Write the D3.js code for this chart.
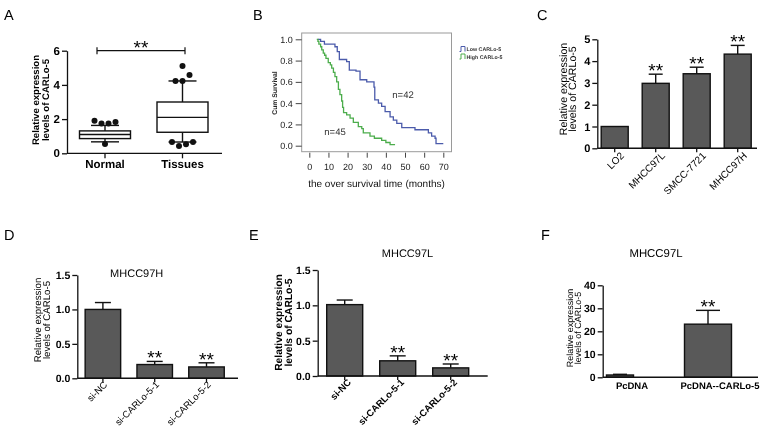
<!DOCTYPE html>
<html><head><meta charset="utf-8">
<script src="https://cdn.jsdelivr.net/npm/d3@7"></script>
<style>body{margin:0;background:#fff} svg{display:block;will-change:transform} text{font-family:'Liberation Sans',Arial,Helvetica,sans-serif;-webkit-font-smoothing:antialiased;text-rendering:geometricPrecision}</style>
</head><body><svg id="c" width="762" height="439"></svg>
<script>
// ---------- DATA ----------
// Panel A (box plot)
const boxCats = ["Normal", "Tissues"];
const boxWhiskerLow = [0.67, 0.66];
const boxQ1 = [0.86, 1.23];
const boxMedian = [1.1, 2.1];
const boxQ3 = [1.31, 3.0];
const boxWhiskerHigh = [1.63, 4.23];
const normalOutliers = [1.91, 1.75, 1.75, 1.83, 0.54];
const tissueOutliers = [5.1, 4.23, 4.23, 4.58, 0.66, 0.43, 0.53, 0.66];
const boxTicks = [0, 2, 4, 6];

// Panel B (Kaplan-Meier)
const lowTimes = [4.4, 5.9, 7.9, 13.4, 14.6, 15.7, 19.5, 20.9, 24.4, 26.5, 30, 33.8, 34.2, 36.1, 37.8, 39.6, 42.2, 43.9, 45.7, 48.3, 55.2, 62.2, 63.9, 65.7, 66.2, 70];
const lowSurv  = [1.0, 0.98, 0.955, 0.93, 0.885, 0.81, 0.79, 0.71, 0.70, 0.62, 0.60, 0.55, 0.43, 0.40, 0.37, 0.32, 0.27, 0.24, 0.21, 0.17, 0.15, 0.12, 0.09, 0.07, 0.02, 0.02];
const highTimes = [3.9, 4.5, 5, 5.9, 6.5, 7.3, 8, 8.7, 9.9, 11, 11.7, 12.6, 13.4, 14.3, 15.2, 16, 16.9, 17.4, 17.9, 19.5, 21.3, 23, 25.6, 27.4, 28.2, 31.7, 34, 37.8, 40, 42.2, 44.8];
const highSurv  = [1.0, 0.98, 0.955, 0.93, 0.90, 0.87, 0.85, 0.82, 0.78, 0.76, 0.73, 0.69, 0.65, 0.60, 0.53, 0.48, 0.42, 0.36, 0.31, 0.29, 0.26, 0.22, 0.18, 0.16, 0.12, 0.09, 0.07, 0.05, 0.03, 0.01, 0.01];
const kmXTicks = [0, 10, 20, 30, 40, 50, 60, 70];
const kmYTicks = [0, 0.2, 0.4, 0.6, 0.8, 1.0];
const kmSeries = ["Low CARLo-5", "High CARLo-5"];
const kmN = ["n=42", "n=45"];

// Panel C
const cCats = ["LO2", "MHCC97L", "SMCC-7721", "MHCC97H"];
const cVals = [1.0, 2.98, 3.42, 4.32];
const cErrs = [0, 0.42, 0.30, 0.40];
const cSig = ["", "**", "**", "**"];
const cTicks = [0, 1, 2, 3, 4, 5];

// Panel D
const dCats = ["si-NC", "si-CARLo-5-1", "si-CARLo-5-2"];
const dVals = [1.0, 0.20, 0.165];
const dErrs = [0.10, 0.045, 0.06];
const dSig = ["", "**", "**"];
const dTicks = [0, 0.5, 1.0, 1.5];

// Panel E
const eCats = ["si-NC", "si-CARLo-5-1", "si-CARLo-5-2"];
const eVals = [1.01, 0.215, 0.115];
const eErrs = [0.065, 0.07, 0.055];
const eSig = ["", "**", "**"];
const eTicks = [0, 0.5, 1.0, 1.5];

// Panel F
const fCats = ["PcDNA", "PcDNA--CARLo-5"];
const fVals = [1.0, 23.1];
const fErrs = [0.3, 6.0];
const fSig = ["", "**"];
const fTicks = [0, 10, 20, 30, 40];

// ---------- DRAW ----------
const svg = d3.select("#c");
svg.append("rect").attr("width", 762).attr("height", 439).attr("fill", "#fff");

function letter(t, x, y) {
  svg.append("text").attr("x", x).attr("y", y).attr("font-size", 14.5).attr("fill", "#000").text(t);
}
function yTitle(lines, xs, yc, fs, bold) {
  lines.forEach((l, i) => {
    svg.append("text")
      .attr("transform", `translate(${xs[i] + fs * 0.36},${yc}) rotate(-90)`)
      .attr("text-anchor", "middle").attr("font-size", fs)
      .attr("font-weight", bold ? "bold" : "normal").attr("fill", "#000").text(l);
  });
}
function styleAxis(sel, fs, bold) {
  sel.select(".domain").attr("stroke", "#111").attr("stroke-width", 1.3);
  sel.selectAll(".tick line").attr("stroke", "#111").attr("stroke-width", 1.3);
  sel.selectAll(".tick text").attr("font-size", fs).attr("font-weight", bold ? "bold" : "normal")
    .attr("fill", "#000").attr("font-family", "'Liberation Sans',Arial,sans-serif");
}

// ===== Panel A =====
letter("A", 4, 20);
{
  const y = d3.scaleLinear().domain([0, 6]).range([153.3, 50.7]);
  const x = d3.scalePoint().domain(boxCats).range([105, 182.5]);
  const ax = 67, axEnd = 222;
  const ya = svg.append("g").attr("transform", `translate(${ax},0)`)
    .call(d3.axisLeft(y).tickValues(boxTicks).tickFormat(d3.format("d")).tickSize(5).tickSizeOuter(0).tickPadding(2));
  styleAxis(ya, 11.5, true);
  svg.append("line").attr("x1", ax).attr("x2", axEnd).attr("y1", y(0)).attr("y2", y(0))
    .attr("stroke", "#111").attr("stroke-width", 1.3);
  boxCats.forEach((c, i) => {
    const cx = x(c), bw = 51, cw = 28;
    svg.append("line").attr("x1", cx).attr("x2", cx).attr("y1", y(0)).attr("y2", y(0) + 5).attr("stroke", "#111").attr("stroke-width", 1.3);
    svg.append("text").attr("x", cx).attr("y", 168).attr("text-anchor", "middle")
      .attr("font-size", 11.5).attr("font-weight", "bold").attr("fill", "#000").text(c);
    const ln = (x1, y1, x2, y2) => svg.append("line").attr("x1", x1).attr("y1", y1).attr("x2", x2).attr("y2", y2)
      .attr("stroke", "#111").attr("stroke-width", 1.4);
    ln(cx, y(boxWhiskerHigh[i]), cx, y(boxQ3[i]));
    ln(cx, y(boxQ1[i]), cx, y(boxWhiskerLow[i]));
    ln(cx - cw / 2, y(boxWhiskerHigh[i]), cx + cw / 2, y(boxWhiskerHigh[i]));
    ln(cx - cw / 2, y(boxWhiskerLow[i]), cx + cw / 2, y(boxWhiskerLow[i]));
    svg.append("rect").attr("x", cx - bw / 2).attr("y", y(boxQ3[i])).attr("width", bw)
      .attr("height", y(boxQ1[i]) - y(boxQ3[i])).attr("fill", "#fff").attr("stroke", "#111").attr("stroke-width", 1.4);
    ln(cx - bw / 2, y(boxMedian[i]), cx + bw / 2, y(boxMedian[i]));
    // outliers, clustered horizontally
    const outs = i === 0 ? normalOutliers : tissueOutliers;
    ["hi", "lo"].forEach(side => {
      const pts = outs.map((v, k) => ({ v, k })).filter(p => side === "hi" ? p.v > boxQ3[i] : p.v < boxQ1[i]);
      const sorted = pts.slice().sort((a, b) => side === "hi" ? b.v - a.v : a.v - b.v);
      const clusters = [];
      sorted.forEach(p => {
        const last = clusters[clusters.length - 1];
        if (last && Math.abs(last[last.length - 1].v - p.v) < 0.4) last.push(p); else clusters.push([p]);
      });
      clusters.forEach(cl => {
        cl.sort((a, b) => a.k - b.k);
        cl.forEach((p, j) => {
          svg.append("circle").attr("cx", cx + (j - (cl.length - 1) / 2) * 7).attr("cy", y(p.v))
            .attr("r", 3).attr("fill", "#111");
        });
      });
    });
  });
  // significance bracket
  const by = y(6), bx1 = 97, bx2 = 185;
  svg.append("line").attr("x1", bx1).attr("x2", bx2).attr("y1", by).attr("y2", by).attr("stroke", "#111").attr("stroke-width", 1.2);
  [bx1, bx2].forEach(bx => svg.append("line").attr("x1", bx).attr("x2", bx).attr("y1", by - 3.5).attr("y2", by + 3.5).attr("stroke", "#111").attr("stroke-width", 1.2));
  svg.append("text").attr("x", (bx1 + bx2) / 2).attr("y", 54).attr("text-anchor", "middle")
    .attr("font-size", 19).attr("fill", "#000").text("**");
  yTitle(["Relative expression", "levels of CARLo-5"], [36, 46], 100, 9.6, true);
}

// ===== Panel B =====
letter("B", 253, 20);
{
  const x = d3.scaleLinear().domain([0, 70]).range([309.3, 443.3]);
  const y = d3.scaleLinear().domain([0, 1]).range([145.7, 39.3]);
  const fx1 = 301.7, fx2 = 451.5, fy1 = 33, fy2 = 151.7;
  svg.append("rect").attr("x", fx1).attr("y", fy1).attr("width", fx2 - fx1).attr("height", fy2 - fy1)
    .attr("fill", "none").attr("stroke", "#9a9a9a").attr("stroke-width", 1);
  const ya = svg.append("g").attr("transform", `translate(${fx1},0)`)
    .call(d3.axisLeft(y).tickValues(kmYTicks).tickFormat(d3.format(".1f")).tickSize(6).tickSizeOuter(0).tickPadding(3));
  ya.select(".domain").remove();
  ya.selectAll(".tick line").attr("stroke", "#444");
  ya.selectAll(".tick text").attr("font-size", 9).attr("fill", "#222");
  const xa = svg.append("g").attr("transform", `translate(0,${fy2 + 1})`)
    .call(d3.axisBottom(x).tickValues(kmXTicks).tickSize(5).tickSizeOuter(0).tickPadding(6));
  xa.select(".domain").remove();
  xa.selectAll(".tick line").attr("stroke", "#444");
  xa.selectAll(".tick text").attr("font-size", 9).attr("fill", "#222");
  const line = d3.line().x(d => x(d[0])).y(d => y(d[1])).curve(d3.curveStepAfter);
  const lowPts = lowTimes.map((t, i) => [t, lowSurv[i]]);
  const highPts = highTimes.map((t, i) => [t, highSurv[i]]);
  const colors = ["#4b5bab", "#4cad4c"];
  svg.append("path").attr("d", line(lowPts)).attr("fill", "none").attr("stroke", colors[0]).attr("stroke-width", 1.3);
  svg.append("path").attr("d", line(highPts)).attr("fill", "none").attr("stroke", colors[1]).attr("stroke-width", 1.3);
  svg.append("text").attr("x", 403).attr("y", 98).attr("text-anchor", "middle").attr("font-size", 9.5).attr("fill", "#333").text(kmN[0]);
  svg.append("text").attr("x", 335).attr("y", 135).attr("text-anchor", "middle").attr("font-size", 9.5).attr("fill", "#333").text(kmN[1]);
  svg.append("text").attr("x", 376.5).attr("y", 187).attr("text-anchor", "middle").attr("font-size", 10).attr("fill", "#111")
    .text("the over survival time (months)");
  svg.append("text").attr("transform", `translate(${274.3 + 2.4},93) rotate(-90)`).attr("text-anchor", "middle")
    .attr("font-size", 6.8).attr("font-weight", "bold").attr("fill", "#222").text("Cum Survival");
  // legend
  kmSeries.forEach((s, i) => {
    const ly = 49 + i * 7.5, lx = 459.5;
    svg.append("path").attr("d", `M${lx},${ly + 2.5}H${lx + 1.5}V${ly - 2.5}H${lx + 5.5}V${ly + 2.5}`)
      .attr("fill", "none").attr("stroke", colors[i]).attr("stroke-width", 1);
    svg.append("text").attr("x", lx + 7).attr("y", ly + 2).attr("font-size", 5.3).attr("font-weight", "bold")
      .attr("fill", "#333").text(s);
  });
}

// ===== Bar panels =====
function barPanel(cfg) {
  const y = d3.scaleLinear().domain([0, cfg.max]).range([cfg.y0, cfg.yTop]);
  const step = cfg.step, bw = cfg.bw, pi = 1 - bw / step;
  const x = d3.scaleBand().domain(cfg.cats)
    .range([cfg.c0 - step / 2, cfg.c0 - step / 2 + cfg.cats.length * step])
    .paddingInner(pi).paddingOuter(pi / 2);
  const ya = svg.append("g").attr("transform", `translate(${cfg.ax},0)`)
    .call(d3.axisLeft(y).tickValues(cfg.ticks).tickFormat(cfg.fmt).tickSize(5).tickSizeOuter(0).tickPadding(2));
  styleAxis(ya, cfg.tickFs, true);
  cfg.cats.forEach((c, i) => {
    const cx = x(c) + x.bandwidth() / 2;
    const w = cfg.bws ? cfg.bws[i] : bw;
    const capW = cfg.capWs ? cfg.capWs[i] : cfg.capW;
    const v = cfg.vals[i], e = cfg.errs[i];
    if (e > 0) {
      svg.append("line").attr("x1", cx).attr("x2", cx).attr("y1", y(v)).attr("y2", y(v + e)).attr("stroke", "#111").attr("stroke-width", 1.4);
      svg.append("line").attr("x1", cx - capW / 2).attr("x2", cx + capW / 2).attr("y1", y(v + e)).attr("y2", y(v + e)).attr("stroke", "#111").attr("stroke-width", 1.4);
    }
    svg.append("rect").attr("x", cx - w / 2).attr("y", y(v)).attr("width", w).attr("height", cfg.y0 - y(v))
      .attr("fill", "#595959").attr("stroke", "#111").attr("stroke-width", 1.4);
    if (cfg.sig[i]) {
      svg.append("text").attr("x", cx).attr("y", y(v + e) + 3).attr("text-anchor", "middle")
        .attr("font-size", 19).attr("fill", "#000").text(cfg.sig[i]);
    }
    if (cfg.xTicks) {
      svg.append("line").attr("x1", cx).attr("x2", cx).attr("y1", cfg.y0).attr("y2", cfg.y0 + 4).attr("stroke", "#111").attr("stroke-width", 1.3);
    }
    if (cfg.rotate) {
      svg.append("text").attr("transform", `translate(${cx + cfg.ldx},${cfg.y0 + cfg.ldy}) rotate(-45)`)
        .attr("text-anchor", "end").attr("font-size", cfg.labFs).attr("font-weight", cfg.labBold ? "bold" : "normal")
        .attr("fill", "#000").text(c);
    } else {
      svg.append("text").attr("x", cx + cfg.ldx[i]).attr("y", cfg.y0 + cfg.ldy).attr("text-anchor", "middle")
        .attr("font-size", cfg.labFs).attr("font-weight", cfg.labBold ? "bold" : "normal")
        .attr("fill", "#000").text(c);
    }
  });
  svg.append("line").attr("x1", cfg.ax).attr("x2", cfg.axEnd).attr("y1", cfg.y0).attr("y2", cfg.y0)
    .attr("stroke", "#111").attr("stroke-width", 1.4);
  if (cfg.title) {
    svg.append("text").attr("x", cfg.title.x).attr("y", cfg.title.y).attr("text-anchor", "middle")
      .attr("font-size", cfg.title.fs).attr("fill", "#000").text(cfg.title.t);
  }
  yTitle(["Relative expression", "levels of CARLo-5"], cfg.yt.xs, cfg.yt.yc, cfg.yt.fs, cfg.yt.bold);
}

letter("C", 537, 20);
barPanel({ cats: cCats, vals: cVals, errs: cErrs, sig: cSig, ticks: cTicks, fmt: d3.format("d"), max: 5,
  y0: 148.3, yTop: 39.3, ax: 597.3, axEnd: 757, c0: 614.7, step: 41, bw: 27, capW: 14, tickFs: 11,
  xTicks: true, rotate: true, ldx: 10, ldy: 8, labFs: 10, labBold: false,
  yt: { xs: [562.7, 571.7], yc: 89, fs: 10.6, bold: false } });

letter("D", 4, 240);
barPanel({ cats: dCats, vals: dVals, errs: dErrs, sig: dSig, ticks: dTicks, fmt: d3.format(".1f"), max: 1.5,
  y0: 378.3, yTop: 275, ax: 77.3, axEnd: 238, c0: 102.9, step: 51.8, bw: 35.5, capW: 16, tickFs: 10.5,
  xTicks: true, rotate: true, ldx: 5, ldy: 7, labFs: 9.5, labBold: false,
  title: { t: "MHCC97H", x: 136.7, y: 276.5, fs: 11 },
  yt: { xs: [37.3, 46.7], yc: 320, fs: 9.7, bold: false } });

letter("E", 249, 240);
barPanel({ cats: eCats, vals: eVals, errs: eErrs, sig: eSig, ticks: eTicks, fmt: d3.format(".1f"), max: 1.5,
  y0: 376, yTop: 270, ax: 317.7, axEnd: 487.7, c0: 344.7, step: 53, bw: 36, capW: 16, tickFs: 10.5,
  xTicks: true, rotate: true, ldx: 7, ldy: 7, labFs: 9.5, labBold: true,
  title: { t: "MHCC97L", x: 407.5, y: 257, fs: 11 },
  yt: { xs: [278.3, 288.3], yc: 322.5, fs: 10.3, bold: true } });

letter("F", 541, 240);
barPanel({ cats: fCats, vals: fVals, errs: fErrs, sig: fSig, ticks: fTicks, fmt: d3.format("d"), max: 40,
  y0: 377.3, yTop: 285.3, ax: 602.7, axEnd: 758, c0: 620, step: 88, bw: 47, bws: [27, 47], capWs: [14, 24], tickFs: 10.5,
  xTicks: false, rotate: false, ldx: [12, 12], ldy: 12, labFs: 9.5, labBold: true,
  title: { t: "MHCC97L", x: 656, y: 257, fs: 11.4 },
  yt: { xs: [569.3, 577.7], yc: 328, fs: 9, bold: false } });
</script></body></html>
